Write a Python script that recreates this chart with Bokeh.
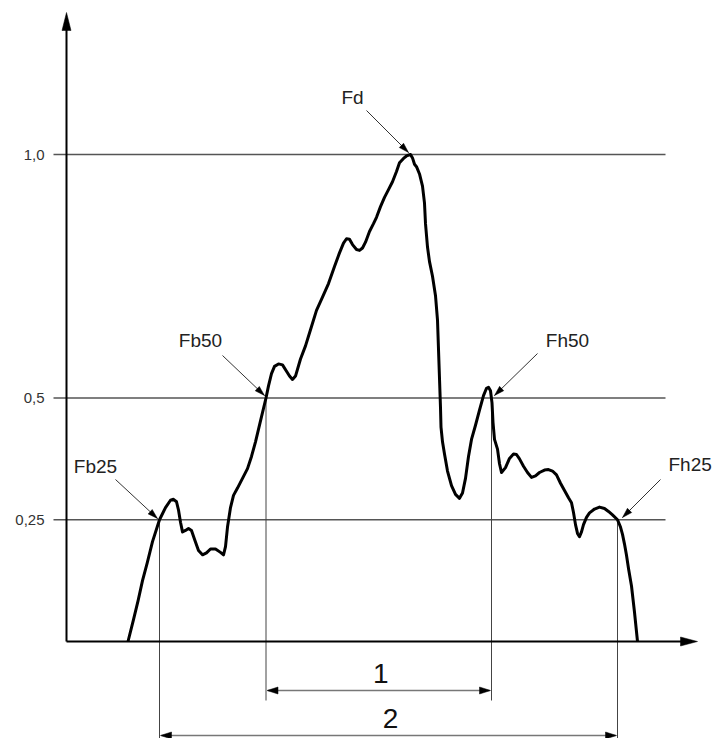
import math
from bokeh.plotting import figure
from bokeh.models import Range1d
from bokeh.core.properties import value
from bokeh.embed import file_html
from bokeh.resources import INLINE

# ---------------- data (x: horizontal position units, y: relative level) ----------------
curve_x = [127.5, 133, 137.6, 142, 146.8, 152, 159, 165, 170, 173, 176, 178, 180, 182, 185, 188,
           191, 194, 198, 202, 206, 210, 215, 220, 223, 225, 227, 230, 233, 237, 242, 247, 251,
           255, 260, 265.5, 268, 271, 274, 278, 282, 286, 289, 292, 295, 300, 305, 310, 316, 322,
           328, 334, 339, 343, 346, 349, 352, 356, 359, 362, 365, 369, 373, 376, 380, 384, 388,
           392, 396, 399, 403, 406, 410, 412, 414, 416, 419, 422, 424, 425, 427, 429, 432, 435,
           437, 438, 439, 440, 440.5, 442, 444, 447, 451, 455, 459, 462, 465, 468, 471, 475, 479,
           483, 486, 488, 490, 491.5, 492.5, 494, 497, 499, 501, 505, 509, 513, 516, 519, 523,
           527, 531, 535, 539, 544, 548, 552, 556, 560, 564, 568, 571, 573, 575, 577, 579, 581,
           583, 586, 589, 594, 599, 604, 608, 612, 617, 620, 622, 624, 626, 628, 631, 634, 637]
curve_y = [0.0, 0.045, 0.084, 0.125, 0.162, 0.205, 0.25, 0.275, 0.29, 0.292, 0.287, 0.27, 0.245,
           0.225, 0.228, 0.232, 0.228, 0.21, 0.187, 0.178, 0.182, 0.19, 0.19, 0.183, 0.178, 0.195,
           0.235, 0.275, 0.3, 0.315, 0.335, 0.355, 0.38, 0.41, 0.453, 0.5, 0.525, 0.55, 0.565,
           0.57, 0.568, 0.555, 0.545, 0.538, 0.545, 0.58, 0.607, 0.64, 0.68, 0.707, 0.735, 0.77,
           0.798, 0.818, 0.827, 0.826, 0.815, 0.805, 0.803, 0.808, 0.82, 0.842, 0.858, 0.871,
           0.893, 0.912, 0.928, 0.944, 0.965, 0.983, 0.992, 0.997, 1.0, 0.993, 0.98, 0.975, 0.96,
           0.935, 0.9, 0.858, 0.81, 0.78, 0.75, 0.71, 0.66, 0.6, 0.54, 0.48, 0.44, 0.41, 0.385,
           0.35, 0.32, 0.302, 0.294, 0.305, 0.335, 0.38, 0.415, 0.444, 0.475, 0.505, 0.52, 0.522,
           0.515, 0.49, 0.45, 0.415, 0.395, 0.365, 0.347, 0.357, 0.376, 0.385, 0.384, 0.375, 0.36,
           0.347, 0.337, 0.34, 0.347, 0.352, 0.353, 0.35, 0.342, 0.325, 0.31, 0.295, 0.285, 0.265,
           0.24, 0.222, 0.215, 0.225, 0.24, 0.255, 0.264, 0.272, 0.276, 0.273, 0.267, 0.26, 0.25,
           0.235, 0.22, 0.2, 0.177, 0.15, 0.114, 0.06, 0.0]

level_values = [1.0, 0.5, 0.25]
level_labels = ["1,0", "0,5", "0,25"]

point_names = ["Fd", "Fb50", "Fh50", "Fb25", "Fh25"]
point_x = [410, 265.5, 491, 159, 617]
point_y = [1.0, 0.5, 0.5, 0.25, 0.25]

width_labels = ["1", "2"]
width_start = [265.5, 159]
width_end = [491, 617]

# ---------------- layout helpers (pixel geometry of the drawing) ----------------
PX = 487.0          # pixels per unit of level
Y0 = 641.0          # pixel row of level 0
W, H = 716, 738


def lv(py):
    """pixel row -> level value"""
    return (Y0 - py) / PX


p = figure(width=W, height=H, output_backend="svg", toolbar_location=None,
           x_range=Range1d(0, W), y_range=Range1d(lv(H), lv(0)),
           x_axis_type=None, y_axis_type=None, min_border=0,
           outline_line_color=None, background_fill_color="white",
           border_fill_color="white")
p.grid.visible = False

FONT = value("Liberation Sans")

heads_x, heads_y = [], []


def head(tx, ty, fx, fy, L, hw):
    dx, dy = tx - fx, ty - fy
    n = math.hypot(dx, dy)
    dx, dy = dx / n, dy / n
    bx, by = tx - dx * L, ty - dy * L
    nx, ny = -dy, dx
    heads_x.append([tx, bx + nx * hw, bx - nx * hw])
    heads_y.append([lv(ty), lv(by + ny * hw), lv(by - ny * hw)])


# level lines
for v in level_values:
    p.line([53, 665], [v, v], line_color="#555555", line_width=1.4)

# level labels
p.text(x=[44] * len(level_values), y=level_values, text=level_labels,
       text_font=FONT, text_font_size="15px", text_align="right",
       text_baseline="middle", text_color="#333333")

# vertical drop lines
drop_bottom = {"Fb50": 700, "Fh50": 700, "Fb25": 745, "Fh25": 745}
for name, x, y in zip(point_names, point_x, point_y):
    if name in drop_bottom:
        p.line([x, x], [y, lv(drop_bottom[name])], line_color="#444444", line_width=1)

# axes
p.line([66, 66], [0, lv(28)], line_color="black", line_width=2)
head(66, 12, 66, 40, 18, 4.5)
p.line([66, 682], [0, 0], line_color="black", line_width=2)
head(697, Y0, 660, Y0, 17, 4.5)

# curve
p.line(curve_x, curve_y, line_color="black", line_width=3, line_join="round")

# annotation labels and arrows
label_pos = {"Fd": (352, 97, "center"), "Fb50": (200, 340, "center"),
             "Fh50": (567, 340, "center"), "Fb25": (95, 466, "center"),
             "Fh25": (668, 464, "left")}
arrow_from = {"Fd": (366, 110), "Fb50": (222, 355), "Fh50": (537, 353),
              "Fb25": (115, 479), "Fh25": (660, 479)}
arrow_to = {"Fd": (408, 152), "Fb50": (264, 395), "Fh50": (494, 395),
            "Fb25": (157, 518), "Fh25": (622, 517)}
for name in point_names:
    lx, ly, al = label_pos[name]
    p.text(x=[lx], y=[lv(ly)], text=[name], text_font=FONT, text_font_size="19px",
           text_align=al, text_baseline="middle", text_color="#222222")
    (fx, fy), (tx, ty) = arrow_from[name], arrow_to[name]
    p.line([fx, tx], [lv(fy), lv(ty)], line_color="#333333", line_width=1)
    head(tx, ty, fx, fy, 10, 3)

# width dimension lines
dim_rows = [690, 735]
dim_label_rows = [673, 718]
for lab, xs, xe, row, lrow in zip(width_labels, width_start, width_end, dim_rows, dim_label_rows):
    p.line([xs + 2, xe - 2], [lv(row), lv(row)], line_color="#777777", line_width=1.5)
    head(xs + 1, row, xe, row, 11, 3.5)
    head(xe - 1, row, xs, row, 11, 3.5)
    p.text(x=[(xs + xe) / 2 + 2], y=[lv(lrow)], text=[lab], text_font=FONT,
           text_font_size="28px", text_align="center", text_baseline="middle",
           text_color="#111111")

p.patches(heads_x, heads_y, fill_color="black", line_color="black", line_width=0.5)

open("out.html", "w").write(file_html(p, INLINE))
